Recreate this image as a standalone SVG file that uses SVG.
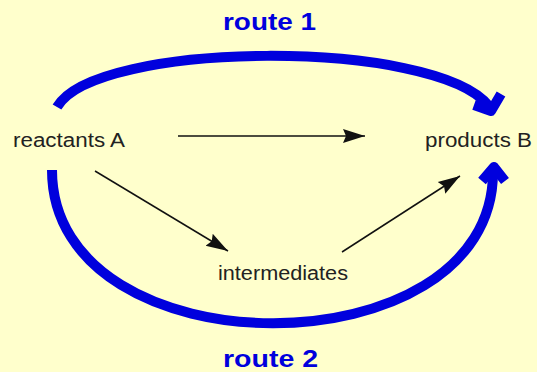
<svg xmlns="http://www.w3.org/2000/svg" width="537" height="372" viewBox="0 0 537 372">
<style>
.lbl{font-family:"Liberation Sans",Arial,sans-serif;font-size:20px;fill:#222}
.route{font-family:"Liberation Sans",Arial,sans-serif;font-size:24px;font-weight:bold;fill:#0000dd}
.big{fill:none;stroke:#0000dd;stroke-width:10;stroke-linejoin:round}
.thin{fill:none;stroke:#111;stroke-width:1.5}
</style>
<defs>
<marker id="ah" markerUnits="userSpaceOnUse" markerWidth="24" markerHeight="16" refX="22" refY="8" orient="auto">
<path d="M0,1 L22,8 L0,15 L3,8 Z" fill="#111"/>
</marker>
</defs>
<rect width="537" height="372" fill="#ffffcc"/>
<g id="connectors">
<path class="big" d="M57,107 C95,40 435,38 489,106"/>
<polyline class="big" points="474,105 491,111 501,94"/>
<path class="big" d="M52,170 C52,374 493,374 493,172"/>
<polyline class="big" points="482,181 494,167 505,181"/>
<line class="thin" x1="178" y1="136" x2="365" y2="136" marker-end="url(#ah)"/>
<line class="thin" x1="95" y1="171" x2="228" y2="251" marker-end="url(#ah)"/>
<line class="thin" x1="342" y1="252" x2="460" y2="176" marker-end="url(#ah)"/>
</g>
<g id="reactants"><text class="lbl" x="13" y="147" textLength="112" lengthAdjust="spacingAndGlyphs">reactants A</text></g>
<g id="products"><text class="lbl" x="425" y="147" textLength="107" lengthAdjust="spacingAndGlyphs">products B</text></g>
<g id="intermediates"><text class="lbl" x="218" y="280" textLength="130" lengthAdjust="spacingAndGlyphs">intermediates</text></g>
<g id="route1"><text class="route" x="223" y="30" textLength="93" lengthAdjust="spacingAndGlyphs">route 1</text></g>
<g id="route2"><text class="route" x="223" y="367" textLength="95" lengthAdjust="spacingAndGlyphs">route 2</text></g>
</svg>
